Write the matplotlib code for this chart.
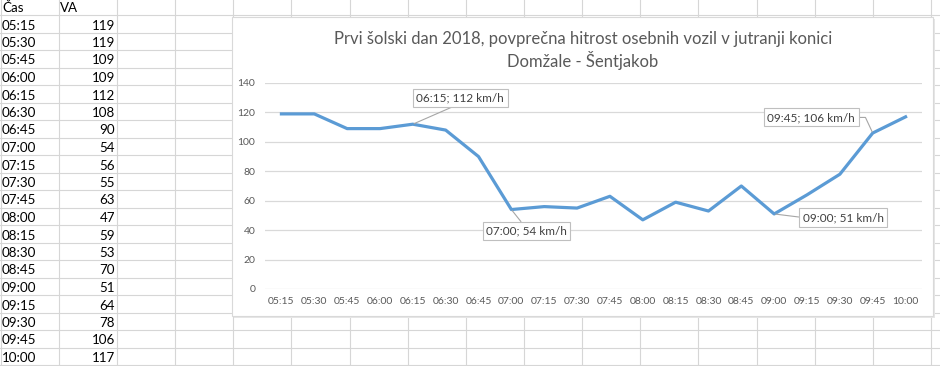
import numpy as np
import matplotlib.pyplot as plt
from matplotlib.patches import Rectangle

# data from the sheet
times = ["05:15", "05:30", "05:45", "06:00", "06:15", "06:30", "06:45", "07:00",
         "07:15", "07:30", "07:45", "08:00", "08:15", "08:30", "08:45", "09:00",
         "09:15", "09:30", "09:45", "10:00"]
va = [119, 119, 109, 109, 112, 108, 90, 54, 56, 55, 63, 47, 59, 53, 70, 51,
      64, 78, 106, 117]
col_headers = ["Čas", "VA"]
title_lines = ["Prvi šolski dan 2018, povprečna hitrost osebnih vozil v jutranji konici",
               "Domžale - Šentjakob"]
labelled = ["06:15", "07:00", "09:00", "09:45"]

plt.rcParams['font.family'] = ['Lato', 'DejaVu Sans']

W, H = 940, 366
fig = plt.figure(figsize=(W / 100, H / 100), dpi=100)

# spreadsheet background, pixel coords
bg = fig.add_axes([0, 0, 1, 1])
bg.set_xlim(0, W)
bg.set_ylim(H, 0)
bg.axis('off')

grid_c = '#d6d6d6'
col_w = 58.14
row_h = 17.5
for k in range(17):
    bg.plot([0.7 + col_w * k] * 2, [0, H], color=grid_c, lw=0.8, zorder=1)
for j in range(21):
    bg.plot([0, W], [15 + row_h * j] * 2, color=grid_c, lw=0.8, zorder=1)

bg.text(2, 12.3, col_headers[0], fontsize=9.6, color='black', va='baseline', ha='left')
bg.text(60, 12.3, col_headers[1], fontsize=9.6, color='black', va='baseline', ha='left')
for i, (t, v) in enumerate(zip(times, va)):
    yb = 29.5 + row_h * i
    bg.text(2, yb, t, fontsize=9.6, color='black', va='baseline', ha='left')
    bg.text(115, yb, str(v), fontsize=9.6, color='black', va='baseline', ha='right')

# chart area box with a little shadow
bg.add_patch(Rectangle((234, 19), 701, 299, facecolor='#e6e6e6', edgecolor='none', zorder=2))
bg.add_patch(Rectangle((232, 17), 701, 299, facecolor='white', edgecolor='#d9d9d9', lw=0.8, zorder=3))

bg.text(583, 39, title_lines[0], fontsize=12, color='#595959', ha='center', va='center', zorder=4)
bg.text(583, 60, title_lines[1], fontsize=12, color='#595959', ha='center', va='center', zorder=4)

# plot area
x0, x1, ytop, ybot = 265, 922, 83, 289
ax = fig.add_axes([x0 / W, (H - ybot) / H, (x1 - x0) / W, (ybot - ytop) / H])
ax.set_facecolor('none')
ax.set_zorder(5)

x = np.arange(len(times))
ax.plot(x, va, color='#5b9bd5', lw=2.3, solid_joinstyle='round', zorder=3)

ax.set_xlim(-0.5, len(times) - 0.5)
ax.set_ylim(0, 140)
ax.set_yticks(range(0, 141, 20))
ax.set_xticks(x)
ax.set_xticklabels(times)
ax.tick_params(length=0, labelsize=7.5, labelcolor='#595959')
ax.tick_params(axis='y', pad=7)
ax.tick_params(axis='x', pad=6)
for s in ax.spines.values():
    s.set_visible(False)
ax.grid(axis='y', color='#d9d9d9', lw=0.9)
ax.set_axisbelow(True)

# data labels: text position (category offset, value) and leader attach point
lab_pos = {"06:15": (5.44, 129.8, (0.5, 0), "arc3"),
           "07:00": (7.46, 39.4, (0.47, 1), "arc3"),
           "09:00": (17.1, 48.6, (0, 0.5), "arc3"),
           "09:45": (16.13, 116.6, (1, 0.5), "angle,angleA=0,angleB=115,rad=0")}
for t in labelled:
    i = times.index(t)
    tx, ty, rp, cs = lab_pos[t]
    ax.annotate(f"{t}; {va[i]} km/h", xy=(i, va[i]), xytext=(tx, ty),
                ha='center', va='center', fontsize=8.5, color='#404040',
                bbox=dict(boxstyle='square,pad=0.3', fc='white', ec='#bfbfbf', lw=0.8),
                arrowprops=dict(arrowstyle='-', color='#a6a6a6', lw=0.8,
                                relpos=rp, connectionstyle=cs, shrinkA=0, shrinkB=1),
                zorder=6)

fig.savefig('out.png', dpi=100)
